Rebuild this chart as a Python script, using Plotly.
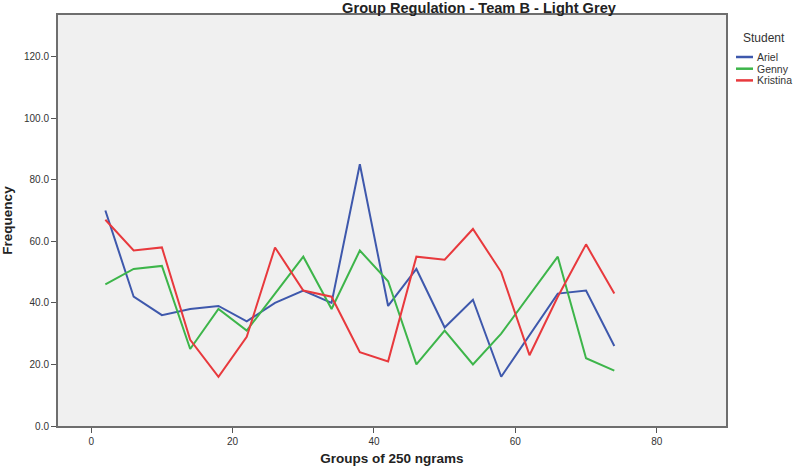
import plotly.graph_objects as go

x_groups = [2, 6, 10, 14, 18, 22, 26, 30, 34, 38, 42, 46, 50, 54, 58, 62, 66, 70, 74]
ariel = [70, 42, 36, 38, 39, 34, 40, 44, 40, 85, 39, 51, 32, 41, 16, 29.5, 43, 44, 26]
genny = [46, 51, 52, 25, 38, 31, 43, 55, 38, 57, 47, 20, 31, 20, 30, 42.5, 55, 22, 18]
kristina = [67, 57, 58, 28, 16, 29, 58, 44, 42, 24, 21, 55, 54, 64, 50, 23, 42, 59, 43]

series_names = ["Ariel", "Genny", "Kristina"]
colors = ["#3E58AC", "#3DB54A", "#E8393D"]
y_ticks = [0, 20, 40, 60, 80, 100, 120]
x_ticks = [0, 20, 40, 60, 80]

font = "Arial, Liberation Sans, sans-serif"
W, H = 795, 468
L, R, T, B = 58, 69, 15, 42
pw, ph = W - L - R, H - T - B


def px_x(px):
    return (px - L) / pw


def px_y(py):
    return (H - B - py) / ph


fig = go.Figure()
for name, ys, c in zip(series_names, [ariel, genny, kristina], colors):
    fig.add_trace(go.Scatter(x=x_groups, y=ys, mode="lines", name=name,
                             line=dict(color=c, width=2), showlegend=False))

# Legend (drawn compactly, as in the reference)
fig.add_annotation(text="Student", xref="paper", yref="paper", x=px_x(763.5), y=px_y(38),
                   xanchor="center", yanchor="middle", showarrow=False,
                   font=dict(size=12, color="#333333"))
for i, (name, c) in enumerate(zip(series_names, colors)):
    yy = 57 + i * 11.7
    fig.add_shape(type="line", xref="paper", yref="paper",
                  x0=px_x(736), x1=px_x(753), y0=px_y(yy), y1=px_y(yy),
                  line=dict(color=c, width=2.5))
    fig.add_annotation(text=name, xref="paper", yref="paper", x=px_x(755), y=px_y(yy),
                       xanchor="left", yanchor="middle", showarrow=False,
                       font=dict(size=10.5, color="#333333"))

fig.update_layout(
    width=W, height=H,
    margin=dict(l=L, r=R, t=T, b=B, autoexpand=False),
    paper_bgcolor="white", plot_bgcolor="#F0F0F0",
    font=dict(family=font, size=10, color="#333333"),
    title=dict(text="<b>Group Regulation - Team B - Light Grey</b>",
               x=479 / W, xanchor="center", y=1 - 8 / H, yanchor="middle",
               font=dict(size=14.6, color="#222222")),
    showlegend=False,
)
fig.update_xaxes(range=[-4.7, 89.8], tickvals=x_ticks, ticktext=[str(v) for v in x_ticks],
                 ticks="outside", ticklen=5, tickcolor="#555555", tickwidth=1,
                 showgrid=False, zeroline=False, showline=True, linecolor="#6E6E6E",
                 linewidth=2, mirror=True, automargin=True,
                 title=dict(text="<b>Groups of 250 ngrams</b>", font=dict(size=13.5, color="#222222"),
                            standoff=8))
fig.update_yaxes(range=[0, 133.5], tickvals=y_ticks, ticktext=[f"{v:.1f}" for v in y_ticks],
                 ticks="outside", ticklen=5, tickcolor="#555555", tickwidth=1,
                 showgrid=False, zeroline=False, showline=True, linecolor="#6E6E6E",
                 linewidth=2, mirror=True, automargin=True,
                 title=dict(text="<b>Frequency</b>", font=dict(size=13.5, color="#222222"),
                            standoff=8))
fig.write_html("out.html")
